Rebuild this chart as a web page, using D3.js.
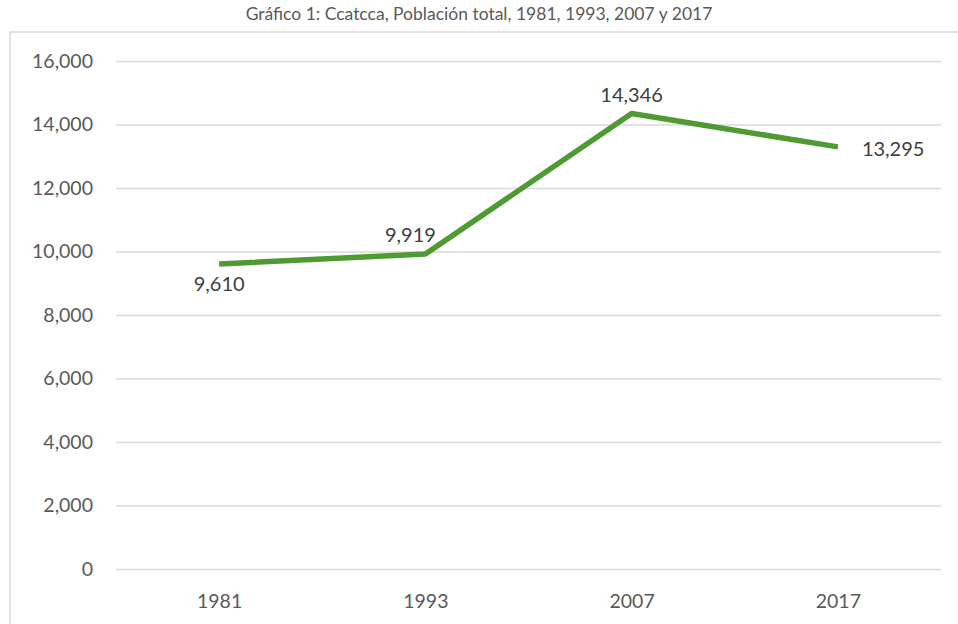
<!DOCTYPE html>
<html>
<head>
<meta charset="utf-8">
<script src="https://cdn.jsdelivr.net/npm/d3@7"></script>
<style>
  body { margin: 0; background: #fff; }
  text { font-family: Lato, "Open Sans", sans-serif; fill: #595959; }
</style>
</head>
<body>
<svg id="chart" width="958" height="624"></svg>
<script>
// data
const years = ["1981", "1993", "2007", "2017"];
const poblacion = [9610, 9919, 14346, 13295];
const yTicks = [0, 2000, 4000, 6000, 8000, 10000, 12000, 14000, 16000];
// where each value label sits relative to its point
const labelPos = ["below", "aboveLeft", "above", "right"];

const svg = d3.select("#chart");
const margin = {top: 61, right: 17, bottom: 55, left: 116};
const width = 958 - margin.left - margin.right,
      height = 624 - margin.top - margin.bottom;

// chart frame
svg.append("rect")
    .attr("x", 10).attr("y", 32)
    .attr("width", 960).attr("height", 620)
    .attr("fill", "none")
    .attr("stroke", "#d9d9d9")
    .attr("stroke-width", 1.5);

svg.append("text")
    .attr("x", 479).attr("y", 20)
    .attr("text-anchor", "middle")
    .style("font-size", "17.5px")
    .text("Gráfico 1: Ccatcca, Población total, 1981, 1993, 2007 y 2017");

const g = svg.append("g").attr("transform", `translate(${margin.left},${margin.top})`);

let x = d3.scalePoint().domain(years).range([0, width]).padding(0.5);
let y = d3.scaleLinear().domain([0, 16000]).range([height, 0]);

// gridlines + y labels
const yAxis = g.append("g")
    .call(d3.axisLeft(y).tickValues(yTicks).tickSize(-width).tickFormat(d3.format(",")));
yAxis.select(".domain").remove();
yAxis.selectAll(".tick line").attr("stroke", "#d9d9d9").attr("stroke-width", 1.5);
yAxis.selectAll(".tick text")
    .attr("x", -23)
    .style("font-size", "19.5px")
    .style("font-family", "Lato, 'Open Sans', sans-serif")
    .attr("fill", "#595959");

// x labels
const xAxis = g.append("g")
    .attr("transform", `translate(0,${height})`)
    .call(d3.axisBottom(x).tickSize(0));
xAxis.select(".domain").remove();
xAxis.selectAll(".tick text")
    .attr("dy", "0")
    .attr("y", 39)
    .style("font-size", "19.5px")
    .style("font-family", "Lato, 'Open Sans', sans-serif")
    .attr("fill", "#595959");

const pts = years.map((d, i) => ({year: d, value: poblacion[i], pos: labelPos[i]}));

g.append("path")
    .datum(pts)
    .attr("fill", "none")
    .attr("stroke", "#4f9a32")
    .attr("stroke-width", 5.5)
    .attr("stroke-linejoin", "round")
    .attr("d", d3.line().x(d => x(d.year)).y(d => y(d.value)));

g.selectAll(".lbl")
    .data(pts)
    .enter().append("text")
    .attr("class", "lbl")
    .style("font-size", "20px")
    .style("fill", "#404040")
    .attr("text-anchor", d => d.pos == "right" ? "start" : "middle")
    .attr("x", function(d) {
        if (d.pos == "right") return x(d.year) + 24;
        if (d.pos == "aboveLeft") return x(d.year) - 15;
        return x(d.year);
    })
    .attr("y", function(d) {
        if (d.pos == "below") return y(d.value) + 27;
        if (d.pos == "right") return y(d.value) + 9;
        return y(d.value) - 12;
    })
    .text(d => d3.format(",")(d.value));
</script>
</body>
</html>
